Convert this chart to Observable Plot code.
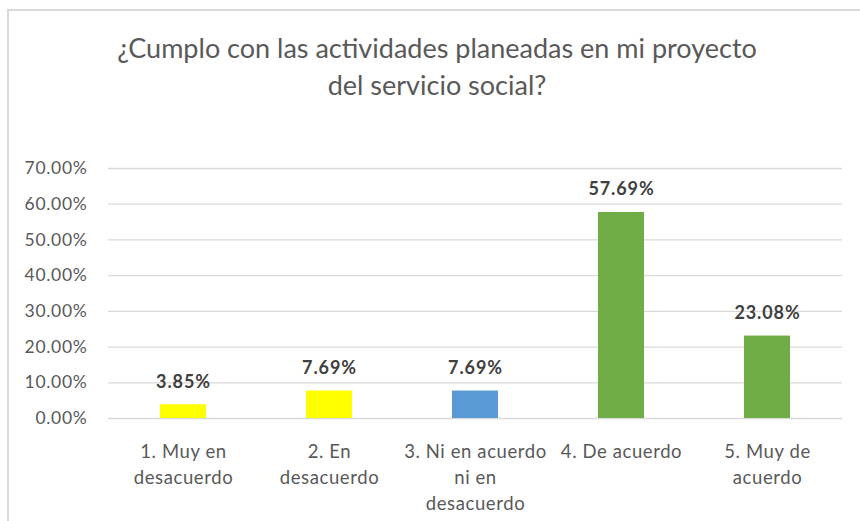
<!DOCTYPE html>
<html>
<head>
<meta charset="utf-8">
<script src="https://cdn.jsdelivr.net/npm/d3@7"></script>
<script src="https://cdn.jsdelivr.net/npm/@observablehq/plot@0.6"></script>
<style>
  html, body { margin: 0; padding: 0; background: #fff; }
  #wrap { position: relative; width: 860px; height: 521px; overflow: hidden; font-family: Lato, "Open Sans", sans-serif; }
  #borderTop { position: absolute; left: 7px; top: 9px; width: 853px; height: 2px; background: #D9D9D9; }
  #borderLeft { position: absolute; left: 7px; top: 9px; width: 2px; height: 512px; background: #D9D9D9; }
  #title { position: absolute; left: 0; top: 29px; width: 874px; text-align: center; color: #595959; font-size: 27px; line-height: 37px; }
  #chart { position: absolute; left: 0; top: 120px; }
  #chart g[aria-label="y-axis tick label"] text { letter-spacing: 0.7px; }
  #chart g[aria-label="x-axis tick label"] text { letter-spacing: 0.6px; }
  #chart g[aria-label="text"] text { letter-spacing: 0.9px; }
</style>
</head>
<body>
<div id="wrap">
  <div id="borderTop"></div>
  <div id="borderLeft"></div>
  <div id="title">¿Cumplo con las actividades planeadas en mi proyecto<br>del servicio social?</div>
  <div id="chart"></div>
</div>
<script>
const categories = [
  "1. Muy en desacuerdo",
  "2. En desacuerdo",
  "3. Ni en acuerdo ni en desacuerdo",
  "4. De acuerdo",
  "5. Muy de acuerdo"
];
const categoryLabels = [
  "1. Muy en\ndesacuerdo",
  "2. En\ndesacuerdo",
  "3. Ni en acuerdo\nni en\ndesacuerdo",
  "4. De acuerdo",
  "5. Muy de\nacuerdo"
];
const values = [0.0385, 0.0769, 0.0769, 0.5769, 0.2308];
const barColors = ["#FFFF00", "#FFFF00", "#5B9BD5", "#70AD47", "#70AD47"];
const yTicks = [0, 0.1, 0.2, 0.3, 0.4, 0.5, 0.6, 0.7];

const data = categories.map((c, i) => ({category: c, value: values[i]}));
const labelOf = new Map(categories.map((c, i) => [c, categoryLabels[i]]));
const pct = d3.format(".2%");

const chart = Plot.plot({
  width: 860,
  height: 401,
  marginTop: 48,
  marginBottom: 103,
  marginLeft: 108,
  marginRight: 18,
  style: { fontFamily: "Lato, 'Open Sans', sans-serif", background: "transparent" },
  x: { domain: categories, paddingInner: 0.687, paddingOuter: 0.3435, label: null },
  y: { domain: [0, 0.7], label: null },
  color: { domain: categories, range: barColors },
  marks: [
    Plot.gridY(yTicks, { stroke: "#D9D9D9", strokeOpacity: 1, strokeWidth: 1.3 }),
    Plot.axisY(yTicks, {
      tickSize: 0, tickPadding: 21, tickFormat: pct,
      fill: "#595959", fontSize: 17.5, label: null
    }),
    Plot.axisX({
      tickSize: 0, tickPadding: 21, tickFormat: d => labelOf.get(d),
      fill: "#595959", fontSize: 18.5, lineHeight: 1.41, label: null
    }),
    Plot.barY(data, { x: "category", y: "value", fill: "category" }),
    Plot.text(data, {
      x: "category", y: "value", text: d => pct(d.value),
      dy: -17, lineAnchor: "bottom", fill: "#404040",
      fontSize: 18, fontWeight: "bold"
    })
  ]
});
document.getElementById("chart").appendChild(chart);
</script>
</body>
</html>
